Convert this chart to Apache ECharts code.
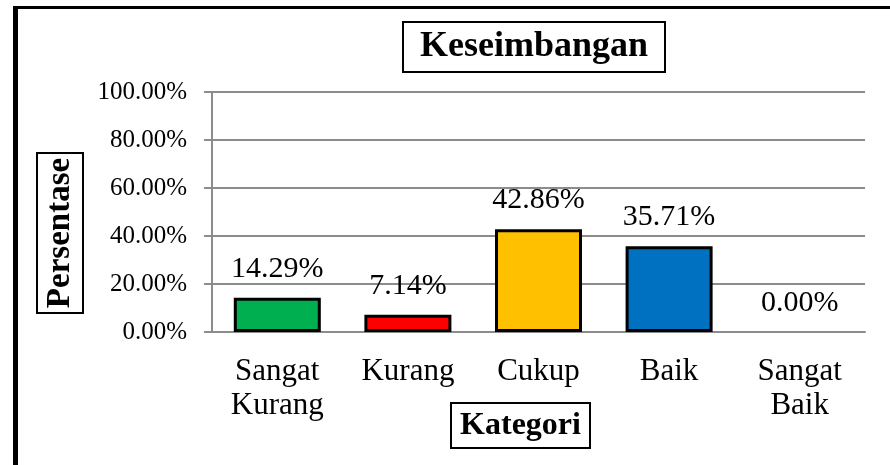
<!DOCTYPE html>
<html>
<head>
<meta charset="utf-8">
<script src="https://cdn.jsdelivr.net/npm/echarts@6/dist/echarts.min.js"></script>
<style>
  html, body { margin: 0; padding: 0; background: #fff; }
  #chart { width: 890px; height: 465px; }
</style>
</head>
<body>
<div id="chart"></div>
<script>
const categories = ['Sangat Kurang', 'Kurang', 'Cukup', 'Baik', 'Sangat Baik'];
const percentages = [14.29, 7.14, 42.86, 35.71, 0.00];
const barColors = ['#00b050', '#ff0000', '#ffc000', '#0070c0', '#7030a0'];
const yTicks = [0, 20, 40, 60, 80, 100];

const serif = "'Liberation Serif', 'Times New Roman', serif";
const gridGray = '#8c8c8c';

const chart = echarts.init(document.getElementById('chart'));

chart.setOption({
  animation: false,
  backgroundColor: '#fff',
  title: {
    text: 'Keseimbangan',
    left: 403,
    top: 22,
    padding: [5, 17],
    borderColor: '#000',
    borderWidth: 2,
    textStyle: {fontFamily: serif, fontSize: 36, fontWeight: 'bold', color: '#000', lineHeight: 40}
  },
  grid: {left: 212, right: 25, top: 92, bottom: 133},
  xAxis: {
    type: 'category',
    data: categories,
    axisLine: {lineStyle: {color: gridGray, width: 2}},
    axisTick: {show: false},
    axisLabel: {
      fontFamily: serif, fontSize: 31, lineHeight: 34, color: '#000', margin: 23,
      interval: 0,
      formatter: (v) => v.replace(' ', '\n')
    }
  },
  yAxis: {
    type: 'value',
    min: yTicks[0],
    max: yTicks[yTicks.length - 1],
    interval: 20,
    axisLine: {show: true, lineStyle: {color: gridGray, width: 2}},
    axisTick: {show: true, length: 8, lineStyle: {color: gridGray, width: 2}},
    splitLine: {lineStyle: {color: gridGray, width: 2}},
    axisLabel: {
      fontFamily: serif, fontSize: 25, color: '#000', margin: 25,
      formatter: (v) => v.toFixed(2) + '%'
    }
  },
  series: [{
    type: 'bar',
    barWidth: 87,
    data: percentages.map((v, i) => ({
      value: v,
      itemStyle: {color: barColors[i], borderColor: '#000', borderWidth: v === 0 ? 0 : 3}
    })),
    label: {
      show: true,
      position: 'top',
      distance: 14,
      fontFamily: serif,
      fontSize: 30,
      color: '#000',
      formatter: (p) => p.value.toFixed(2) + '%'
    }
  }],
  graphic: [
    // outer frame (only top and left edges are visible)
    {type: 'rect', shape: {x: 13, y: 6, width: 877, height: 3}, style: {fill: '#000'}, z: 100},
    {type: 'rect', shape: {x: 13, y: 6, width: 5, height: 459}, style: {fill: '#000'}, z: 100},
    // y axis title box
    {type: 'rect', shape: {x: 37, y: 153, width: 46, height: 160},
      style: {fill: '#fff', stroke: '#000', lineWidth: 2}, z: 100},
    {type: 'text', x: 60, y: 233, rotation: Math.PI / 2, z: 101,
      style: {text: 'Persentase', font: 'bold 33px ' + serif, fill: '#000', align: 'center', verticalAlign: 'middle'}},
    // x axis title box
    {type: 'rect', shape: {x: 451, y: 403, width: 139, height: 45},
      style: {fill: '#fff', stroke: '#000', lineWidth: 2}, z: 100},
    {type: 'text', x: 520.5, y: 426, z: 101,
      style: {text: 'Kategori', font: 'bold 32px ' + serif, fill: '#000', align: 'center', verticalAlign: 'middle'}}
  ]
});
</script>
</body>
</html>
